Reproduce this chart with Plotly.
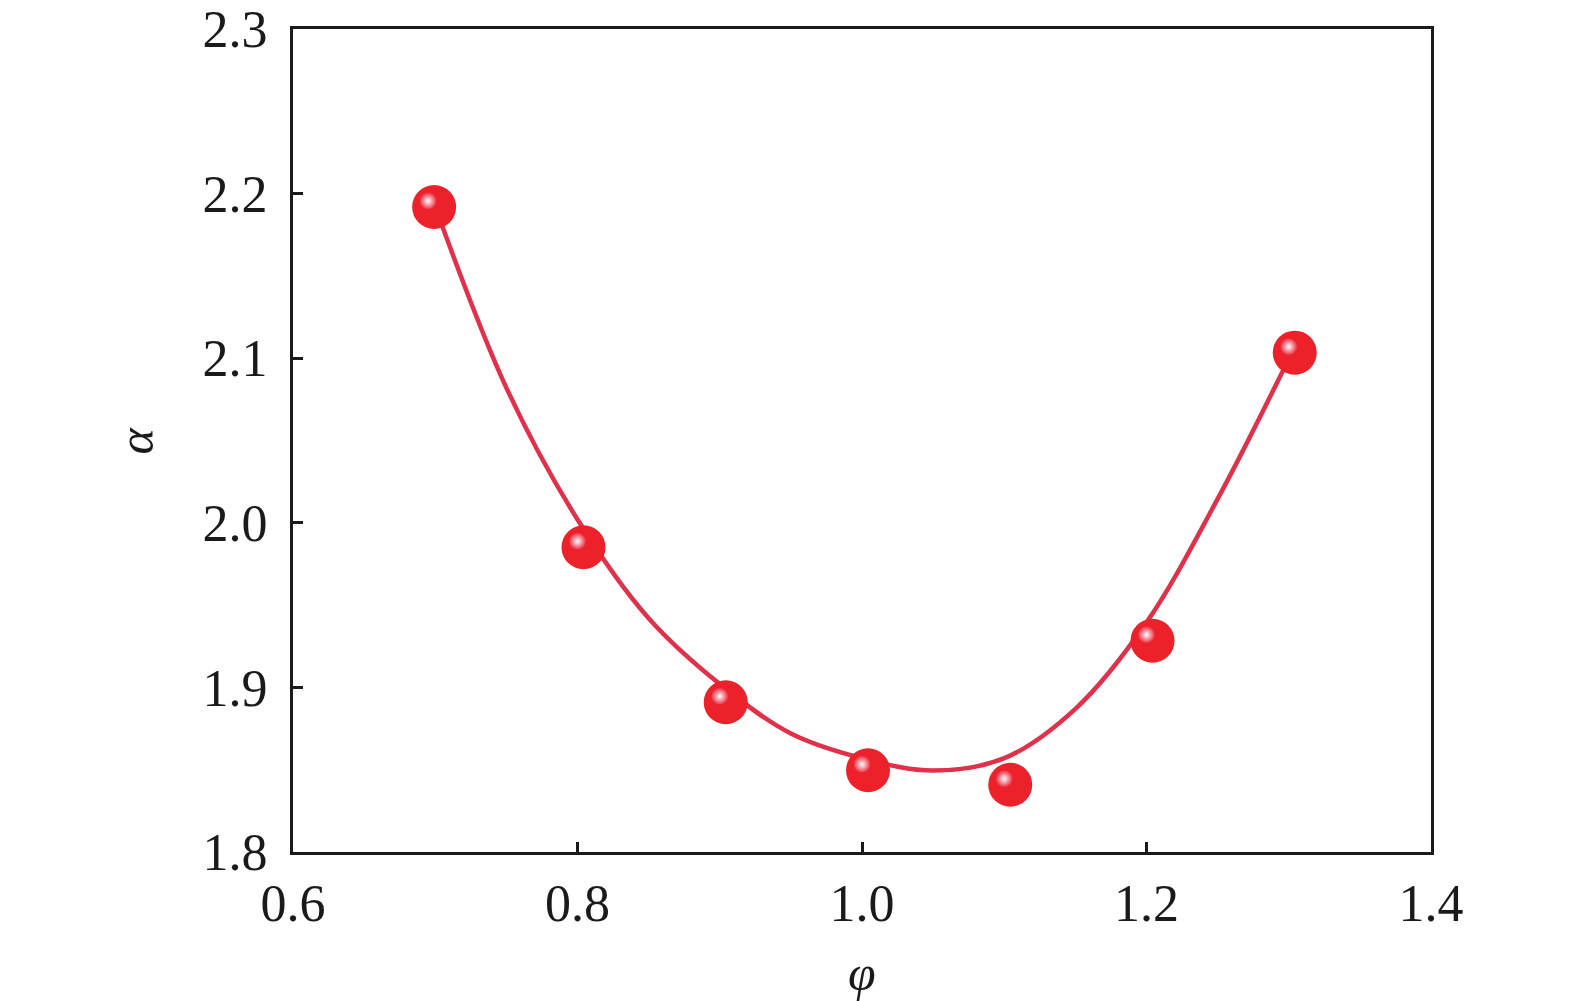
import plotly.graph_objects as go

# measured points (phi, alpha)
phi = [0.695, 0.8, 0.9, 1.0, 1.1, 1.2, 1.3]
alpha = [2.1955, 1.9888, 1.8946, 1.8533, 1.8445, 1.932, 2.107]

# fitted curve
fit_phi = [0.70, 0.75, 0.80, 0.85, 0.90, 0.95, 1.00, 1.05, 1.10, 1.15, 1.20, 1.25, 1.30]
fit_alpha = [2.192, 2.082, 2.002, 1.942, 1.902, 1.872, 1.857, 1.8495, 1.857, 1.887, 1.9395, 2.0145, 2.0995]

x_ticks = [0.6, 0.8, 1.0, 1.2, 1.4]
x_tick_text = ["0.6", "0.8", "1.0", "1.2", "1.4"]
y_ticks = [1.8, 1.9, 2.0, 2.1, 2.2, 2.3]
y_tick_text = ["1.8", "1.9", "2.0", "2.1", "2.2", "2.3"]

W, H = 1575, 1001
ML, MR, MT, MB = 285, 146, 21, 151
PW = W - ML - MR
PH = H - MT - MB
SH = 6  # sphere offset in px

FONT = "Liberation Serif"
INK = "#1a1a1a"

fig = go.Figure()
fig.add_trace(go.Scatter(x=fit_phi, y=fit_alpha, mode="lines", line=dict(color="#e0304a", width=4.5, shape="spline", smoothing=1.0),
                         xaxis="x", yaxis="y", showlegend=False, hoverinfo="skip"))
fig.add_trace(go.Scatter(x=phi, y=alpha, mode="markers",
                         marker=dict(size=44, color="#ec2129", line=dict(width=0)),
                         xaxis="x2", yaxis="y2", showlegend=False, cliponaxis=False))
fig.add_trace(go.Scatter(x=phi, y=alpha, mode="markers",
                         marker=dict(size=17, color="#ee2a3e", line=dict(width=0),
                                     gradient=dict(type="radial", color="#ffffff")),
                         xaxis="x3", yaxis="y3", showlegend=False, cliponaxis=False))

main_xd = [0, (PW - SH) / PW]
main_yd = [SH / PH, 1]
sph_xd = [SH / PW, 1]
sph_yd = [0, (PH - SH) / PH]

xrng = [0.6, 1.4]
yrng = [1.8, 2.3]

fig.update_layout(
    width=W, height=H,
    margin=dict(l=ML, r=MR, t=MT, b=MB, autoexpand=False),
    paper_bgcolor="white", plot_bgcolor="rgba(0,0,0,0)",
    font=dict(family=FONT, color=INK),
    xaxis=dict(domain=main_xd, range=xrng, tickvals=x_ticks, ticktext=x_tick_text,
               ticks="inside", ticklen=10, tickwidth=3, tickcolor=INK,
               showline=True, linewidth=3, linecolor=INK, mirror=True, automargin=False,
               showgrid=False, zeroline=False, tickfont=dict(family=FONT, size=52, color=INK),
               ticklabelstandoff=4, ticklabeloverflow="allow", anchor="y"),
    yaxis=dict(domain=main_yd, range=yrng, tickvals=y_ticks, ticktext=y_tick_text,
               ticks="inside", ticklen=10, tickwidth=3, tickcolor=INK,
               showline=True, linewidth=3, linecolor=INK, mirror=True, automargin=False,
               showgrid=False, zeroline=False, tickfont=dict(family=FONT, size=52, color=INK),
               ticklabelstandoff=12, ticklabeloverflow="allow", anchor="x"),
    xaxis2=dict(domain=sph_xd, range=xrng, visible=False, anchor="y2", automargin=False),
    yaxis2=dict(domain=sph_yd, range=yrng, visible=False, anchor="x2", automargin=False),
    xaxis3=dict(domain=main_xd, range=xrng, visible=False, anchor="y3", automargin=False),
    yaxis3=dict(domain=main_yd, range=yrng, visible=False, anchor="x3", automargin=False),
    annotations=[
        dict(text="<i>α</i>", xref="x domain", yref="y domain", x=0, y=0.5, xshift=-158,
             showarrow=False, textangle=-90, xanchor="center", yanchor="middle",
             font=dict(family=FONT, size=50, color=INK)),
        dict(text="<i>φ</i>", xref="x domain", yref="y domain", x=0.5, y=0, yshift=-121,
             showarrow=False, xanchor="center", yanchor="middle",
             font=dict(family=FONT, size=50, color=INK)),
    ],
)

fig.write_html("out.html")
